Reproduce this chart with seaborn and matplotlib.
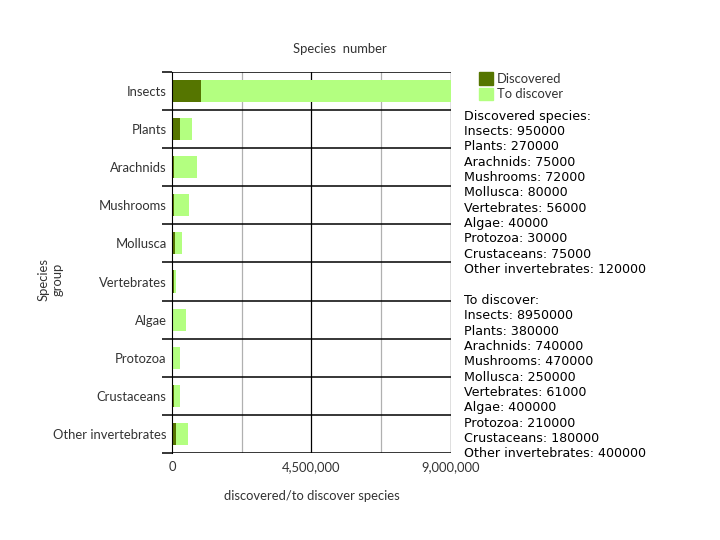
import numpy as np
import pandas as pd
import seaborn as sns
import matplotlib.pyplot as plt
from matplotlib.patches import Patch

# dados
grupos = ['Insects', 'Plants', 'Arachnids', 'Mushrooms', 'Mollusca', 'Vertebrates',
          'Algae', 'Protozoa', 'Crustaceans', 'Other invertebrates']
descobertas = [950000, 270000, 75000, 72000, 80000, 56000, 40000, 30000, 75000, 120000]
a_descobrir = [8950000, 380000, 740000, 470000, 250000, 61000, 400000, 210000, 180000, 400000]
xticks = [0, 4500000, 9000000]
xticklabels = ['0', '4,500,000', '9,000,000']

cor_escura = '#557500'
cor_clara = '#b3ff80'

df = pd.DataFrame({'grupo': grupos, 'descobertas': descobertas, 'a_descobrir': a_descobrir})
df['total'] = df['descobertas'] + df['a_descobrir']

sns.set_style('white')
plt.rcParams['font.family'] = ['Lato', 'DejaVu Sans']

fig = plt.figure(figsize=(7.2, 5.4), dpi=100)
ax = fig.add_axes([0.239, 0.161, 0.387, 0.706])

# barras empilhadas: total (claro) e descobertas (escuro) por cima
sns.barplot(data=df, x='total', y='grupo', color=cor_clara, width=0.58, saturation=1,
            linewidth=0, ax=ax)
sns.barplot(data=df, x='descobertas', y='grupo', color=cor_escura, width=0.58, saturation=1,
            linewidth=0, ax=ax)

ax.set_xlim(0, 9000000)
ax.set_ylim(len(grupos) - 0.5, -0.5)

# grade vertical
for v, c in [(2250000, '#b0b0b0'), (4500000, 'black'), (6750000, '#b0b0b0'), (9000000, 'black')]:
    ax.axvline(v, color=c, lw=0.9, zorder=0)
# separadores entre grupos
limites = np.arange(len(grupos) + 1) - 0.5
for b in limites:
    ax.axhline(b, color='black', lw=1.1, zorder=0)
ax.set_yticks(limites, minor=True)
ax.tick_params(axis='y', which='minor', length=7, width=1.1, color='black', left=True)
ax.tick_params(axis='y', which='major', length=0, labelsize=9.4, labelcolor='#333333', pad=4)

ax.set_xticks(xticks)
ax.set_xticklabels(xticklabels)
ax.tick_params(axis='x', length=0, labelsize=9.4, labelcolor='#333333', pad=6)

for s in ['top', 'right', 'bottom']:
    ax.spines[s].set_visible(False)
ax.spines['left'].set_color('black')

ax.set_xlabel('discovered/to discover species', fontsize=9.4, color='#333333', labelpad=12)
ax.set_ylabel('')
fig.text(0.07, 0.482, 'Species\ngroup', rotation=90, ha='center', va='center',
         fontsize=9.4, color='#333333')
fig.text(0.472, 0.91, 'Species  number', ha='center', va='center', fontsize=9.4, color='#333333')

# legenda
handles = [Patch(color=cor_escura, label='Discovered'), Patch(color=cor_clara, label='To discover')]
fig.legend(handles=handles, loc='upper left', bbox_to_anchor=(0.665, 0.866), frameon=False,
           fontsize=9.4, handlelength=1.1, handleheight=1.1, handletextpad=0.3,
           labelspacing=0.2, borderpad=0, borderaxespad=0, labelcolor='#333333')

# bloco de texto
linhas = ['Discovered species:'] + [f'{g}: {v}' for g, v in zip(grupos, descobertas)] + ['']
linhas += ['To discover:'] + [f'{g}: {v}' for g, v in zip(grupos, a_descobrir)]
fig.text(0.644, 0.797, '\n'.join(linhas), ha='left', va='top', fontsize=9.1,
         family='DejaVu Sans', color='black', linespacing=1.235)

plt.savefig('out.png')
